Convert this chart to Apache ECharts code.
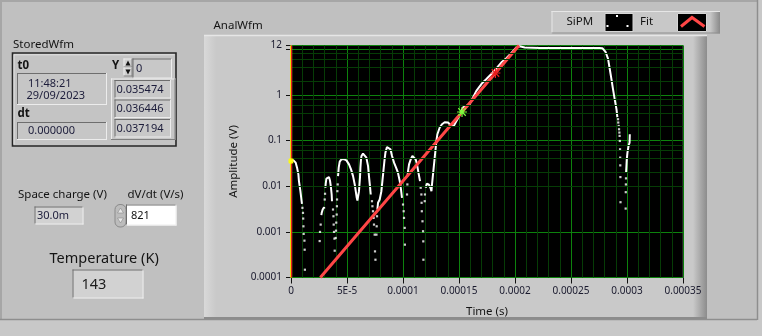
<!DOCTYPE html>
<html><head><meta charset="utf-8">
<script src="https://cdn.jsdelivr.net/npm/echarts@6/dist/echarts.min.js"></script>
<style>html,body{margin:0;padding:0;background:#c0c0c0;}#c{width:762px;height:336px;}</style>
</head><body><div id="c"></div>
<script>
// ---------- data ----------
const xTickLabels = ['0','5E-5','0.0001','0.00015','0.0002','0.00025','0.0003','0.00035'];
const yTickValues = [0.0001, 0.001, 0.01, 0.1, 1, 12];
const yTickLabels = ['0.0001','0.001','0.01','0.1','1','12'];

// SiPM waveform, continuous parts (null separates pieces)
const sipmCurveTime = [
  0, 1.0e-6, 2.0e-6, 4.2e-6, 5.4e-6, 6.6e-6, 7.1e-6, 8.4e-6, 9.3e-6, 9.8e-6, null,
  27.1e-6, 27.4e-6, 28.3e-6, 29.5e-6, 29.9e-6, null,
  30.7e-6, 31.0e-6, 31.6e-6, 32.8e-6, 33.9e-6, 34.8e-6, 35.7e-6, 36.3e-6, 36.6e-6, null,
  42.0e-6, 42.6e-6, 43.5e-6, 45.0e-6, 47.1e-6, 49.5e-6, 51.8e-6, 53.6e-6, 55.4e-6, 56.9e-6, 57.8e-6, 58.7e-6, 59.3e-6, 59.8e-6,
  60.7e-6, 61.6e-6, 62.0e-6, 62.5e-6, 62.9e-6, 64.3e-6, 65.8e-6, 67.3e-6, 68.8e-6, 69.6e-6, 70.5e-6, 71.2e-6, null,
  77.1e-6, 77.7e-6, 79.2e-6, 80.1e-6, 80.7e-6, 81.6e-6, 82.5e-6, 83.4e-6, 84.3e-6, 85.7e-6, 87.2e-6, 88.8e-6, 90.2e-6,
  92.0e-6, 93.8e-6, 95.5e-6, 97.1e-6, 98.2e-6, 99.1e-6, null,
  104.1e-6, 104.5e-6, 105.4e-6, 106.9e-6, 108.4e-6, 109.8e-6, 111.3e-6, 112.5e-6, 113.8e-6, 115.2e-6, null,
  120.3e-6, 121.2e-6, 123.0e-6, 124.5e-6, 125.4e-6, 125.9e-6, 126.8e-6, 127.7e-6, 128.9e-6, 129.8e-6, 130.7e-6, 132.8e-6,
  134.8e-6, 137.2e-6, 140.2e-6, 143.2e-6, 145.3e-6, 147.7e-6, 150.6e-6, 153.6e-6, 156.6e-6, 159.6e-6, 162.5e-6, 165.5e-6,
  170.0e-6, 174.5e-6, 178.9e-6, 183.4e-6, 187.9e-6, 192.3e-6, 196.8e-6, 200.6e-6, 204.2e-6, 208.7e-6, 222.1e-6, 248.8e-6,
  275.6e-6, 278.0e-6, 281.0e-6, 283.1e-6, 284.6e-6, 286.1e-6, 287.5e-6, 289.0e-6, 290.6e-6, 291.4e-6, null,
  299.2e-6, 299.5e-6, 299.8e-6, 300.4e-6, 300.9e-6, 301.5e-6, 302.3e-6, 302.5e-6
];
const sipmCurveAmp = [
  0.0355, 0.0364, 0.0372, 0.0327, 0.0254, 0.0181, 0.0129, 0.00776, 0.0051, 0.0041, null,
  0.00231, 0.0026, 0.00308, 0.00345, 0.00323, null,
  0.00923, 0.0113, 0.0146, 0.0161, 0.0158, 0.0133, 0.00923, 0.00657, 0.00468, null,
  0.0166, 0.0254, 0.0344, 0.0386, 0.0392, 0.0367, 0.030, 0.0233, 0.0166, 0.0109, 0.00776, 0.00556, 0.00485, 0.0051,
  0.00776, 0.0155, 0.0258, 0.0386, 0.0456, 0.0515, 0.0498, 0.0421, 0.0275, 0.0166, 0.0100, 0.00657, null,
  0.00308, 0.00432, 0.0051, 0.00556, 0.00776, 0.0129, 0.0214, 0.0354, 0.0542, 0.0720, 0.0757, 0.0641, 0.0456,
  0.0327, 0.0254, 0.0197, 0.0129, 0.00846, 0.00556, null,
  0.0166, 0.0214, 0.030, 0.0386, 0.0456, 0.0443, 0.0386, 0.030, 0.0197, 0.0129, null,
  0.00923, 0.0113, 0.0109, 0.00923, 0.00776, 0.0109, 0.0181, 0.030, 0.0588, 0.0975, 0.137, 0.192,
  0.227, 0.251, 0.247, 0.208, 0.208, 0.268, 0.358, 0.528, 0.573, 0.625, 0.877, 1.22,
  1.72, 2.21, 2.85, 3.80, 5.15, 6.31, 8.25, 10.5, 11.6, 10.9, 10.6, 10.6,
  10.6, 10.5, 8.55, 6.09, 3.67, 2.21, 1.33, 0.803, 0.485, 0.323, null,
  0.0203, 0.0275, 0.0386, 0.0542, 0.0641, 0.0785, 0.0899, 0.137
];
// SiPM waveform, isolated sample points on the steep edges
const sipmDotTime = [
  10.2e-6, 10.7e-6, 10.9e-6, 11.1e-6, 11.3e-6, 12.0e-6, 12.2e-6, 12.4e-6,
  25.6e-6, 25.9e-6, 26.5e-6, 30.1e-6, 30.4e-6,
  37.5e-6, 37.9e-6, 38.1e-6, 38.4e-6, 38.8e-6, 39.0e-6,
  39.9e-6, 40.2e-6, 40.4e-6, 40.8e-6, 41.0e-6, 41.1e-6, 41.4e-6, 41.7e-6,
  72.3e-6, 72.7e-6, 73.2e-6, 73.8e-6, 74.1e-6, 74.7e-6, 75.0e-6, 75.4e-6,
  76.3e-6, 76.5e-6, 76.8e-6,
  100.0e-6, 100.6e-6, 100.9e-6, 101.5e-6, 101.7e-6,
  103.6e-6, 103.9e-6,
  115.8e-6, 116.4e-6, 116.6e-6, 116.8e-6, 117.4e-6, 117.9e-6, 118.1e-6, 118.2e-6,
  119.4e-6, 119.6e-6,
  292.0e-6, 292.2e-6, 292.6e-6, 292.9e-6, 293.2e-6, 293.4e-6, 293.6e-6, 293.8e-6, 293.9e-6, 294.0e-6, 294.1e-6, 294.2e-6,
  298.8e-6, 298.9e-6, 299.0e-6, 299.1e-6
];
const sipmDotAmp = [
  0.00335, 0.0026, 0.00195, 0.00132, 0.0009, 0.000641, 0.000406, 0.000148,
  0.000628, 0.000995, 0.00144, 0.0051, 0.00681,
  0.00308, 0.00219, 0.00144, 0.000995, 0.000709, 0.000386,
  0.000734, 0.00106, 0.00159, 0.00239, 0.00363, 0.0051, 0.00776, 0.0109,
  0.00468, 0.00363, 0.00282, 0.00202, 0.00144, 0.000867, 0.000373, 0.000245,
  0.000867, 0.00132, 0.00219,
  0.00396, 0.00282, 0.00202, 0.00122, 0.000524,
  0.00657, 0.0109,
  0.00923, 0.00657, 0.00432, 0.00282, 0.0017, 0.00103, 0.000618, 0.000245,
  0.00468, 0.00657,
  0.292, 0.247, 0.208, 0.176, 0.149, 0.126, 0.0975, 0.0641, 0.0421, 0.0285, 0.0158, 0.00445,
  0.00323, 0.00738, 0.0109, 0.0148
];
// exponential fit (straight on log axis)
const fitTime = [2.62e-5, 1.527e-4, 1.825e-4, 2.036e-4];
const fitAmp  = [1e-4, 0.42, 3.0, 12];
// graph cursors
const cursorTime = [0, 1.527e-4, 1.825e-4];
const cursorAmp  = [0.0355, 0.42, 3.0];
const cursorColor = ['#ffff00', '#7cfc3c', '#e81c1c'];
const cursorSize = [6, 10, 10];
// panel indicator values
const storedY = ['0.035474', '0.036446', '0.037194'];
const t0Text = ['11:48:21', '29/09/2023'];
const dtText = '0.000000';
const spaceCharge = '30.0m';
const dvdt = '821';
const temperature = '143';

// ---------- build ----------
const FONT = '"Noto Sans", "DejaVu Sans", sans-serif';
const segments = [];
let cur = [];
for (let i = 0; i < sipmCurveTime.length; i++) {
  if (sipmCurveTime[i] === null) { if (cur.length) segments.push(cur); cur = []; }
  else cur.push([sipmCurveTime[i], sipmCurveAmp[i]]);
}
if (cur.length) segments.push(cur);
const dots = sipmDotTime.map((t, i) => [t, sipmDotAmp[i]]);
const fit = fitTime.map((t, i) => [t, fitAmp[i]]);
const minorY = [];
for (let e = -4; e <= 0; e++) for (const k of [2, 4, 6, 8]) minorY.push(k * Math.pow(10, e));

// ---------- panel decoration ----------
const G = [];
function rect(x, y, w, h, fill, stroke, lw, z, r) {
  G.push({type:'rect', silent:true, z: z === undefined ? -6 : z,
    shape:{x, y, width:w, height:h, r: r || 0},
    style:{fill: fill || 'none', stroke: stroke || null, lineWidth: lw || 0}});
}
function line(x1, y1, x2, y2, stroke, lw, z) {
  G.push({type:'line', silent:true, z: z === undefined ? -5 : z,
    shape:{x1, y1, x2, y2}, style:{stroke, lineWidth: lw || 1}});
}
function text(x, y, t, size, bold, fill, z) {
  G.push({type:'text', silent:true, z: z === undefined ? -4 : z, x, y,
    style:{text:t, font:(bold ? 'bold ' : '') + size + 'px ' + FONT,
      fill: fill || '#141414', align:'left', verticalAlign:'middle'}});
}
function poly(points, fill, stroke, lw, z) {
  G.push({type: fill ? 'polygon' : 'polyline', silent:true, z: z === undefined ? -4 : z,
    shape:{points}, style:{fill: fill || null, stroke: stroke || null, lineWidth: lw || 1}});
}
function sunken(x, y, w, h, fill) {
  rect(x, y, w, h, fill);
  line(x, y + 0.5, x + w, y + 0.5, '#6e6e6e');
  line(x + 0.5, y, x + 0.5, y + h, '#6e6e6e');
  line(x, y + h - 0.5, x + w, y + h - 0.5, '#ececec');
  line(x + w - 0.5, y, x + w - 0.5, y + h, '#ececec');
}
function raised(x, y, w, h, fill) {
  rect(x, y, w, h, fill);
  line(x, y + 0.5, x + w, y + 0.5, '#ececec');
  line(x + 0.5, y, x + 0.5, y + h, '#ececec');
  line(x, y + h - 0.5, x + w, y + h - 0.5, '#808080');
  line(x + w - 0.5, y, x + w - 0.5, y + h, '#808080');
}
const grad = (c1, c2) => ({type:'linear', x:0, y:0, x2:1, y2:0, colorStops:[{offset:0, color:c1}, {offset:1, color:c2}]});

// outer pane
rect(0, 0, 762, 336, '#c8c8c8', null, 0, -9);
rect(0, 0, 757, 319, '#c0c0c0', null, 0, -8);
line(0, 1, 757, 1, '#a6a6a6', 2, -7);
line(1, 0, 1, 319, '#a6a6a6', 2, -7);
line(0, 319.5, 757, 319.5, '#8e8e8e', 1.5, -7);
line(757.5, 0, 757.5, 320, '#8e8e8e', 1.5, -7);

// StoredWfm cluster
text(13, 44.5, 'StoredWfm', 11.5);
rect(12.5, 53, 163.5, 93, '#c4c4c4', '#262626', 1.6);
line(14, 54.8, 174.5, 54.8, '#e2e2e2');
line(14, 54.5, 14, 144.5, '#e2e2e2');
text(17.5, 66, 't0', 11.5, true);
sunken(17, 73, 90, 32, '#c6c6c6');
text(28, 83.5, t0Text[0], 11, false, '#1c1c3a');
text(26.5, 96, t0Text[1], 11, false, '#1c1c3a');
text(17.5, 114, 'dt', 11.5, true);
sunken(17, 122, 90, 18, '#c6c6c6');
text(28, 131, dtText, 11, false, '#1c1c3a');
text(112, 66, 'Y', 11.5, true);
raised(123.5, 58.5, 9, 9, '#cfcfcf');
raised(123.5, 67.5, 9, 9, '#cfcfcf');
poly([[125.5, 65.5], [128, 60.5], [130.5, 65.5]], '#111');
poly([[125.5, 69.5], [128, 74.5], [130.5, 69.5]], '#111');
sunken(132.5, 58.5, 39.5, 20, '#c8c8c8');
text(136, 69, '0', 11, false, '#1c1c3a');
raised(111, 78.5, 64.5, 61.5, '#c6c6c6');
[80, 99.5, 119].forEach((y, i) => {
  sunken(114.5, y, 56.5, 18.5, '#c8c8c8');
  text(116.5, y + 9.5, storedY[i], 11, false, '#1c1c3a');
});

// controls
text(18, 195, 'Space charge (V)', 11.5);
sunken(34.5, 206.5, 49, 18, '#d2d2d2');
text(37, 216, spaceCharge, 11, false, '#1c1c3a');
text(127.5, 195, 'dV/dt (V/s)', 11.5);
rect(115, 204.5, 11, 22.5, '#bcbcbc', '#8a8a8a', 1, -6, 5);
poly([[117.5, 213], [120.5, 208], [123.5, 213]], '#e8e8e8', '#888', 0.6);
poly([[117.5, 218], [120.5, 223], [123.5, 218]], '#e8e8e8', '#888', 0.6);
sunken(126, 204.5, 50.5, 21, '#ffffff');
text(131, 215.5, dvdt, 11, false, '#111');
text(49.5, 259, 'Temperature (K)', 14.5);
sunken(72.5, 269.5, 71, 29, '#d2d2d2');
text(81.5, 284.5, temperature, 14.5, false, '#1c1c1c');

// graph frame
text(213.5, 26, 'AnalWfm', 11.5);
rect(204, 35, 503, 284, '#c9c9c9', null, 0, -6);
rect(204, 35, 12, 284, grad('#d9d9d9', '#c9c9c9'), null, 0, -5.5);
rect(693, 35, 14, 284, grad('#c9c9c9', '#8c8c8c'), null, 0, -5.5);
line(204, 35.5, 707, 35.5, '#e6e6e6', 1.5);
line(204, 318, 707, 318, '#8c8c8c', 2);

// plot legend
rect(551.5, 11, 168.5, 22.5, '#c8c8c8', null, 0, -6);
rect(710, 11, 10, 22.5, grad('#c8c8c8', '#8a8a8a'), null, 0, -5.5);
line(551.5, 11.5, 720, 11.5, '#e6e6e6');
line(552, 11, 552, 33.5, '#e6e6e6');
line(551.5, 33, 720, 33, '#8e8e8e');
text(566.5, 22, 'SiPM', 11.5);
rect(605, 13.5, 28, 18, '#000', '#d6d6d6', 1, -5);
[[616, 15], [606.5, 25], [626.5, 25]].forEach(p => rect(p[0], p[1], 2, 2, '#fff', null, 0, -4));
text(640, 22, 'Fit', 11.5);
rect(677.5, 13.5, 29, 18, '#000', '#d6d6d6', 1, -5);
poly([[681, 26.5], [692, 17.5], [704.5, 26.5]], null, '#ff4646', 3, -4);

// ---------- chart ----------
const chart = echarts.init(document.getElementById('c'));
const starPath = 'path://M0,4L8,4M4,0L4,8M1,1L7,7M1,7L7,1';
const opt = {
  animation: false,
  backgroundColor: 'transparent',
  graphic: {elements: G},
  grid: {left: 291, top: 45.5, width: 392, height: 232, show: true,
         backgroundColor: '#000', borderColor: '#4a4a4a', borderWidth: 1},
  xAxis: {
    type: 'value', min: 0, max: 0.00035, interval: 0.00005,
    name: 'Time (s)', nameLocation: 'middle', nameGap: 28,
    nameTextStyle: {fontFamily: FONT, fontSize: 11.5, color: '#141414'},
    axisLine: {show: false},
    axisTick: {show: true, length: 6, lineStyle: {color: '#111'}},
    axisLabel: {margin: 9, fontFamily: FONT, fontSize: 10, color: '#1a1a2e',
      formatter: v => xTickLabels[Math.round(v / 0.00005)]},
    splitLine: {show: true, lineStyle: {color: '#0d820d', width: 1}},
    minorTick: {show: false, splitNumber: 5},
    minorSplitLine: {show: true, lineStyle: {color: '#063c06', width: 1}}
  },
  yAxis: {
    type: 'log', logBase: 10, min: 0.0001, max: 12,
    name: 'Amplitude (V)', nameLocation: 'middle', nameGap: 44, nameRotate: 90,
    nameTextStyle: {fontFamily: FONT, fontSize: 11.5, color: '#141414'},
    axisLine: {show: false},
    axisTick: {show: true, length: 5, lineStyle: {color: '#111'}},
    axisLabel: {margin: 9, fontFamily: FONT, fontSize: 10, color: '#1a1a2e',
      showMinLabel: true, showMaxLabel: true,
      formatter: v => {
        const lv = Math.log10(v);
        for (let i = 0; i < yTickValues.length; i++)
          if (Math.abs(lv - Math.log10(yTickValues[i])) < 0.02) return yTickLabels[i];
        return '';
      }},
    splitLine: {show: true, lineStyle: {color: '#0d820d', width: 1}}
  },
  series: [
    {name: 'minor', type: 'line', data: [[0, 1]], symbol: 'none', lineStyle: {width: 0}, z: 1, silent: true,
     markLine: {symbol: ['none', 'none'], silent: true, animation: false, label: {show: false},
       lineStyle: {color: '#063c06', width: 1, type: 'solid'},
       data: minorY.map(v => ({yAxis: v}))}},
    ...segments.map(seg => ({name: 'SiPM', type: 'line', data: seg, symbol: 'none', z: 2,
       lineStyle: {color: '#ffffff', width: 2}})),
    {name: 'SiPM', type: 'scatter', data: dots, symbol: 'rect', symbolSize: 2.2, z: 2,
     itemStyle: {color: '#ffffff'}},
    {name: 'Fit', type: 'line', data: fit, symbol: 'none', z: 3,
     lineStyle: {color: '#ff4646', width: 3}},
    {name: 'cursors', type: 'line', data: [[0, 1]], symbol: 'none', lineStyle: {width: 0}, z: 4, silent: true,
     markLine: {symbol: ['none', 'none'], silent: true, animation: false, label: {show: false},
       data: cursorTime.map((t, i) => ({xAxis: t, lineStyle: {color: cursorColor[i], width: i === 0 ? 2 : 1.3, type: 'solid'}}))},
     markPoint: {silent: true, animation: false, label: {show: false},
       data: cursorTime.map((t, i) => ({coord: [t, cursorAmp[i]], symbol: starPath, symbolSize: cursorSize[i],
         itemStyle: {color: 'transparent', borderColor: cursorColor[i], borderWidth: 1.2}}))}}
  ]
};
chart.setOption(opt);
</script></body></html>
